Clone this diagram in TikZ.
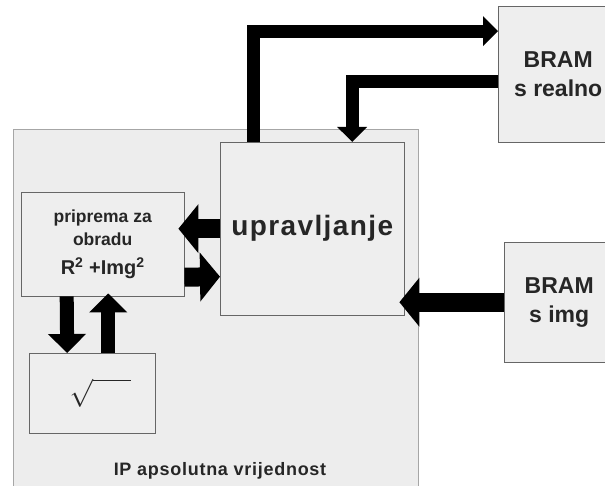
\documentclass[tikz,border=0pt]{standalone}
\usepackage{graphicx}
\usepackage{fontspec}
\setmainfont{Liberation Sans}
\usetikzlibrary{arrows.meta,positioning}
\definecolor{boxfill}{HTML}{EEEEEE}
\definecolor{ipfill}{HTML}{EDEDED}
\definecolor{txt}{HTML}{262626}

\begin{document}
\begin{tikzpicture}[x=1pt,y=-1pt,
  blk/.style={draw=black!60,fill=boxfill,rectangle,anchor=north west,inner sep=0pt,align=center,text=txt,font=\bfseries},
  flowthin/.style={line width=13pt,line join=miter,-{Triangle[width=29pt,length=15pt]}},
  flowmid/.style={line width=14pt,-{Triangle[width=37pt,length=19pt]}},
  flowwide/.style={line width=19pt,-{Triangle[width=48pt,length=20pt]}}]
  \useasboundingbox (0,0) rectangle (605,486);
  \clip (0,0) rectangle (605,486);

  \node[blk, draw=black!35, fill=ipfill, minimum width=405pt, minimum height=380pt] (ip)     at (13,129)  {};
  \node[text=txt, font=\bfseries\fontsize{18}{20}\selectfont\addfontfeature{LetterSpace=4}] (iptxt) at (220,471) {IP apsolutna vrijednost};

  \node[blk, minimum width=184pt, minimum height=173pt, font=\bfseries\fontsize{28}{32}\selectfont\addfontfeature{LetterSpace=5}] (ctrl) at (220,142) {upravljanje};
  \node[blk, minimum width=163pt, minimum height=104pt] (prep)   at (21,192)
    {\fontsize{17.5}{22}\selectfont priprema za\\[6pt] \fontsize{17.5}{22}\selectfont obradu\\[11pt]
     \fontsize{20}{24}\selectfont R\textsuperscript{2} +Img\textsuperscript{2}};
  \node[blk, minimum width=126pt, minimum height=80pt] (sqbox) at (29,353)
    {\hspace{16pt}\scalebox{2.8}{$\sqrt{\vphantom{M}\hspace{13.5pt}}$}};

  \node[blk, minimum width=120pt, minimum height=136pt, font=\bfseries\fontsize{23}{29}\selectfont] (bramre) at (498,6)   {BRAM\\s realno};
  \node[blk, minimum width=110pt, minimum height=120pt, font=\bfseries\fontsize{23}{29}\selectfont] (bramim) at (504,242) {BRAM\\s img};

  % veze
  \draw[flowthin]
  ([xshift=33pt]ctrl.north west) |- ([yshift=43pt]bramre.west);
  \draw[flowthin]
  ([yshift=-7pt]bramre.west) -| ([xshift=40pt]ctrl.north);

  \draw[flowwide, shorten >=-5pt]
  (bramim.west) -- (ctrl.east |- bramim.west);
  \draw[flowwide, shorten >=-6pt]
  (ctrl.west) -- (prep.east |- ctrl.west);
  \draw[flowwide]
  ([yshift=-33pt]prep.east) -- ([yshift=-48pt]ctrl.west);

  \draw[flowmid]
  ([xshift=-36pt]prep.south) -- ([xshift=-25pt]sqbox.north);
  \draw[flowmid]
  ([xshift=16pt]sqbox.north) -- ([xshift=5.5pt,yshift=3pt]prep.south);
\end{tikzpicture}
\end{document}
